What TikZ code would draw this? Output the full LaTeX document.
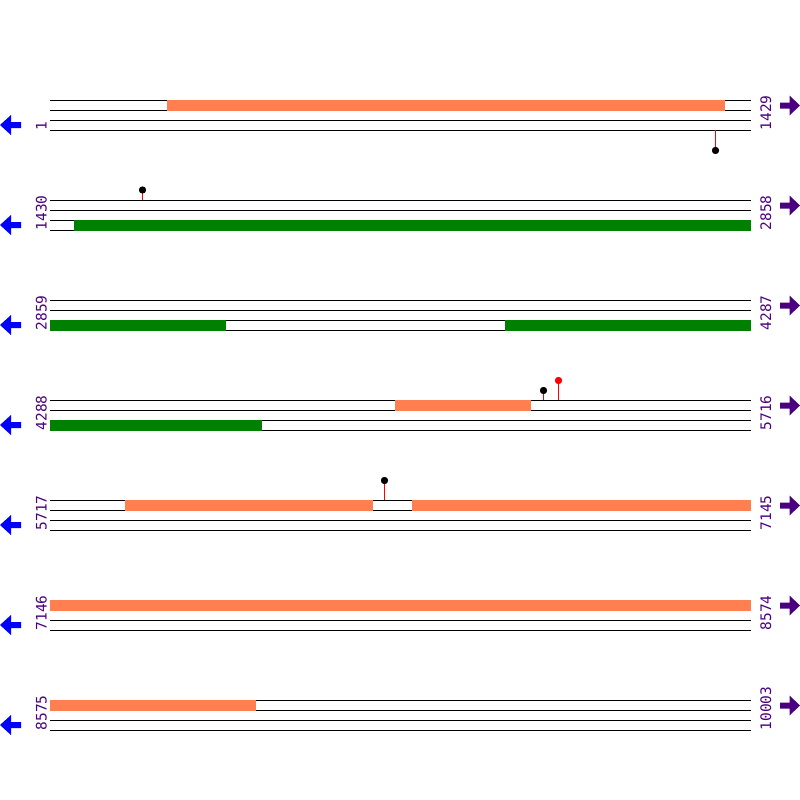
\documentclass[tikz,border=0pt]{standalone}
\usepackage{fontspec}
\newfontfamily\labfont{DejaVu Sans Mono}
\definecolor{labpurple}{RGB}{75,0,130}
\definecolor{barorange}{RGB}{255,127,80}
\definecolor{bargreen}{RGB}{0,128,0}
\definecolor{arrowblue}{RGB}{0,0,255}
\begin{document}
\begin{tikzpicture}[x=1pt,y=-1pt,
  trackline/.style={black,line width=1pt},
  orangebar/.style={fill=barorange,draw=none},
  greenbar/.style={fill=bargreen,draw=none},
  poslabel/.style={text=labpurple,font=\labfont\fontsize{14.5}{14.5}\selectfont,rotate=90,anchor=base west,inner sep=0pt},
  stem/.style={red,line width=1pt},
  ball/.style={circle,fill=black,inner sep=0pt,minimum size=7pt},
  redball/.style={circle,fill=red,inner sep=0pt,minimum size=7pt}]
\useasboundingbox (0,0) rectangle (800,800);
\fill[white] (0,0) rectangle (800,800);
% track lines, labels and arrows
\foreach \i/\l/\r in {0/1/1429,1/1430/2858,2/2859/4287,3/4288/5716,4/5717/7145,5/7146/8574,6/8575/10003}{
  \pgfmathsetmacro{\y}{100+100*\i}
  \foreach \k in {0,10,20,30}{
    \draw[trackline] (50,\y+\k) -- (750.5,\y+\k);
  }
  \node[poslabel] (left\i) at (46.5,\y+30.5) {\l};
  \node[poslabel] (right\i) at (771,\y+30.5) {\r};
  \fill[arrowblue] (0,\y+25) -- (11,\y+15) -- (11,\y+22) -- (21,\y+22) -- (21,\y+28) -- (11,\y+28) -- (11,\y+35) -- cycle;
  \fill[labpurple] (800,\y+5.5) -- (789.5,\y-4.5) -- (789.5,\y+2.5) -- (780,\y+2.5) -- (780,\y+8.5) -- (789.5,\y+8.5) -- (789.5,\y+15.5) -- cycle;
}
% bars
\fill[orangebar] (167,99.5) rectangle (725,110.5);
\fill[greenbar] (74,219.5) rectangle (750.5,230.5);
\fill[greenbar] (50,319.5) rectangle (226,330.5);
\fill[greenbar] (505,319.5) rectangle (750.5,330.5);
\fill[orangebar] (395,399.5) rectangle (531,410.5);
\fill[greenbar] (50,419.5) rectangle (262,430.5);
\fill[orangebar] (125,499.5) rectangle (373,510.5);
\fill[orangebar] (412,499.5) rectangle (750.5,510.5);
\fill[orangebar] (50,599.5) rectangle (750.5,610.5);
\fill[orangebar] (50,699.5) rectangle (256,710.5);
% lollipops
\node[ball] (p1) at (715.5,150.5) {};
\coordinate (s1) at (715.5,130);
\draw[stem] (s1) -- (p1.center);
\node[ball] (p2) at (142.5,190) {};
\coordinate (s2) at (142.5,200);
\draw[stem] (s2) -- (p2.center);
\node[ball] (p3) at (543.5,390.5) {};
\coordinate (s3) at (543.5,400);
\draw[stem] (s3) -- (p3.center);
\node[redball] (p4) at (558.5,380.5) {};
\coordinate (s4) at (558.5,400);
\draw[stem] (s4) -- (p4.center);
\node[ball] (p5) at (384.5,480.5) {};
\coordinate (s5) at (384.5,500);
\draw[stem] (s5) -- (p5.center);
\foreach \p in {p1,p2,p3,p5}{\node[ball] at (\p) {};}
\node[redball] at (p4) {};
\end{tikzpicture}
\end{document}
